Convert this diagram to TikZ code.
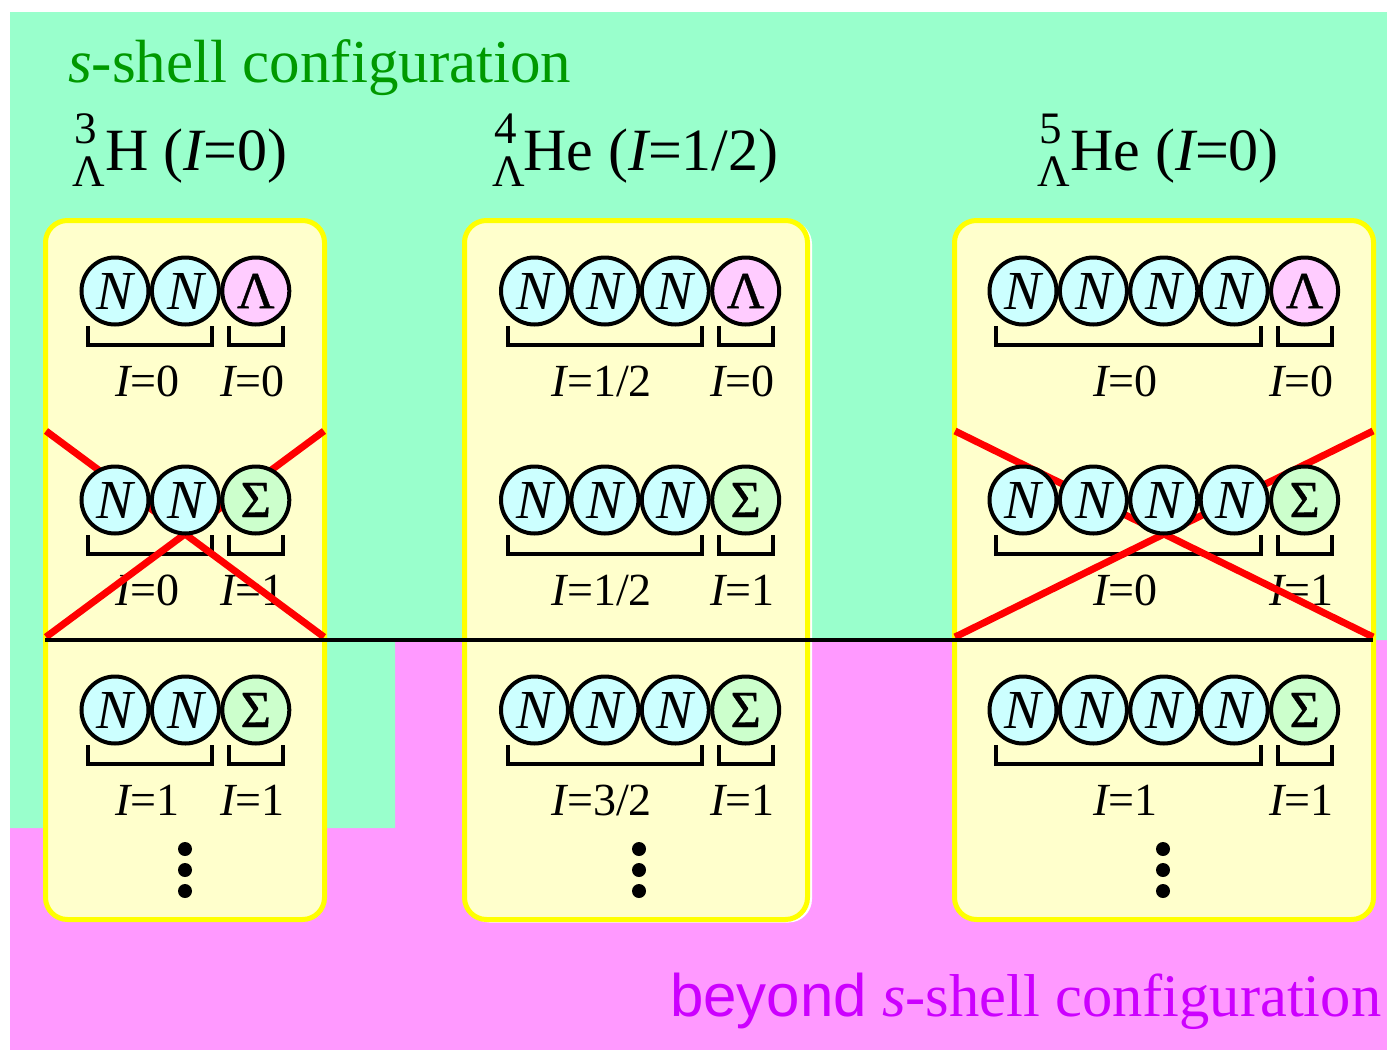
\documentclass[tikz,border=0pt]{standalone}
\usepackage{fontspec}
\setmainfont{Liberation Serif}
\setsansfont{Liberation Sans}
\newfontfamily\grkfont[FakeBold=0.8]{Liberation Serif}
\pgfdeclarelayer{bg}
\pgfdeclarelayer{low}
\pgfdeclarelayer{mid}
\pgfsetlayers{bg,low,mid,main}
\definecolor{bggreen}{HTML}{99FFCC}
\definecolor{bgpink}{HTML}{FF99FF}
\definecolor{titlegreen}{HTML}{009900}
\definecolor{titlemag}{HTML}{CC00FF}
\definecolor{yfill}{HTML}{FFFFCC}
\definecolor{yborder}{HTML}{FFFF00}
\definecolor{nfill}{HTML}{CCFFFF}
\definecolor{lfill}{HTML}{FFCCFF}
\definecolor{sfill}{HTML}{CCFFCC}
\tikzset{
  nuc/.style={circle,draw=black,line width=4pt,minimum size=67pt,inner sep=0pt,fill=nfill,font=\fontsize{55}{55}\selectfont},
  lam/.style={nuc,fill=lfill,font=\fontsize{52}{52}\selectfont\grkfont},
  sig/.style={nuc,fill=sfill,font=\fontsize{52}{52}\selectfont\grkfont},
  brk/.style={line width=4pt,black},
  lab/.style={anchor=base,inner sep=0pt,font=\fontsize{46}{46}\selectfont},
  ybox/.style={draw=yborder,fill=yfill,line width=5pt,rounded corners=22pt},
  xline/.style={red,line width=7pt},
  head/.style={anchor=base west,inner sep=0pt,font=\fontsize{60}{60}\selectfont},
  pre/.style={anchor=base west,inner sep=0pt,font=\fontsize{45}{45}\selectfont},
  dotmark/.style={circle,fill=black,inner sep=0pt,minimum size=14pt},
}
% #1 prefix, #2 x of first N, #3 y, #4 number of N, #5 style, #6 symbol, #7 left label, #8 right label
\newcommand{\hrow}[8]{%
  \pgfmathsetmacro\hrowH{#2+#4*70.4}%
  \pgfmathsetmacro\hrowL{#2+(#4-1)*70.4}%
  \pgfmathsetmacro\hrowC{#2+(#4-1)*35.2}%
  \foreach \k in {1,...,#4} {\node[nuc] (#1n\k) at ({#2+(\k-1)*70.4},#3) {\itshape N};}
  \node[#5] (#1y) at (\hrowH,#3) {#6};
  \begin{pgfonlayer}{low}
    \draw[brk] ({#2-27},{#3+35}) -- ({#2-27},{#3+54}) -- ({\hrowL+27},{#3+54}) -- ({\hrowL+27},{#3+35});
    \draw[brk] ({\hrowH-27},{#3+35}) -- ({\hrowH-27},{#3+54}) -- ({\hrowH+27},{#3+54}) -- ({\hrowH+27},{#3+35});
    \node[lab] (#1a) at ({\hrowC-3},{#3+105}) {{\itshape I}=#7};
    \node[lab] (#1b) at ({\hrowH-3},{#3+105}) {{\itshape I}=#8};
  \end{pgfonlayer}
}
\begin{document}
\begin{tikzpicture}[x=1pt,y=-1pt]
\clip (0,0) rectangle (1387,1052);
\begin{pgfonlayer}{bg}
  \fill[white] (0,0) rectangle (1387,1052);
  \fill[bgpink] (10,640) rectangle (1387,1050);
  \fill[bggreen] (10,12) -- (1387,12) -- (1387,640) -- (395,640) -- (395,828) -- (10,828) -- cycle;
  \draw[ybox] (45.5,220.5) rectangle (324.5,919.5);
  \draw[white,line width=3pt,rounded corners=22pt] (467.5,222) rectangle (810.5,921);
  \draw[ybox] (464.5,220.5) rectangle (807.5,919.5);
  \draw[ybox] (954.5,220.5) rectangle (1373.5,919.5);
\end{pgfonlayer}

% titles
\node[head,text=titlegreen,font=\fontsize{61}{61}\selectfont] (t1) at (68,82) {{\itshape s}-shell configuration};
\node[head,text=titlemag,font=\fontsize{60.5}{61}\selectfont] (t2) at (670,1016) {{\sffamily\fontsize{60}{61}\selectfont beyond} {\itshape s}-shell configuration};

% headings
\node[pre] (h1s) at (74,143) {3};
\node[pre] (h1l) at (72,186) {Λ};
\node[head] (h1) at (105,170) {H ({\itshape I}=0)};
\node[pre] (h2s) at (494,143) {4};
\node[pre] (h2l) at (492,186) {Λ};
\node[head] (h2) at (523,170) {He ({\itshape I}=1/2)};
\node[pre] (h3s) at (1039,143) {5};
\node[pre] (h3l) at (1037,186) {Λ};
\node[head] (h3) at (1070,170) {He ({\itshape I}=0)};

% red crosses
\begin{pgfonlayer}{mid}
  \draw[xline] (46,431) -- (324,637);
  \draw[xline] (324,431) -- (46,637);
  \draw[xline] (955,431) -- (1373,637);
  \draw[xline] (1373,431) -- (955,637);
\end{pgfonlayer}

% rows
\hrow{a1}{115}{291}{2}{lam}{Λ}{0}{0}
\hrow{a2}{115}{500}{2}{sig}{Σ}{0}{1}
\hrow{a3}{115}{710}{2}{sig}{Σ}{1}{1}
\hrow{b1}{534.5}{291}{3}{lam}{Λ}{1/2}{0}
\hrow{b2}{534.5}{500}{3}{sig}{Σ}{1/2}{1}
\hrow{b3}{534.5}{710}{3}{sig}{Σ}{3/2}{1}
\hrow{c1}{1023}{291}{4}{lam}{Λ}{0}{0}
\hrow{c2}{1023}{500}{4}{sig}{Σ}{0}{1}
\hrow{c3}{1023}{710}{4}{sig}{Σ}{1}{1}

% dots
\foreach \xx/\nm in {185/a,639/b,1163/c} {
  \node[dotmark] (\nm d1) at (\xx,849) {};
  \node[dotmark] (\nm d2) at (\xx,870) {};
  \node[dotmark] (\nm d3) at (\xx,891) {};
}

% separating line
\coordinate (sepL) at (45,639.5);
\coordinate (sepR) at (1373,639.5);
\draw[line width=4pt,black] (sepL) -- (sepR);
\end{tikzpicture}
\end{document}
